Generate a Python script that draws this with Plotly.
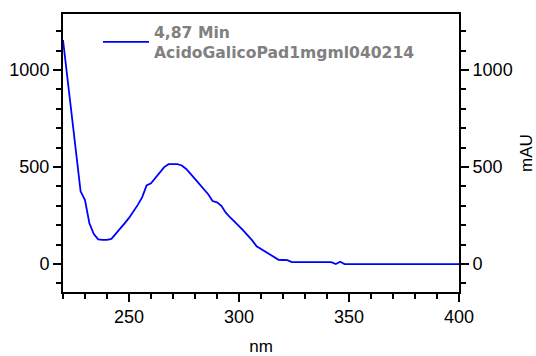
import plotly.graph_objects as go

# UV spectrum of the 4,87 min peak (wavelength in nm, absorbance in mAU)
wavelength = [220, 222, 224, 226, 228, 230, 232, 234, 236, 238, 240, 242, 244, 246,
              248, 250, 252, 254, 256, 258, 260, 262, 264, 266, 268, 270, 272, 274,
              276, 278, 280, 282, 284, 286, 288, 290, 292, 294, 296, 298, 300, 302,
              304, 306, 308, 310, 312, 314, 316, 318, 320, 322, 324, 326, 328, 330,
              332, 334, 336, 338, 340, 342, 344, 346, 348, 350, 355, 360, 365, 370,
              375, 380, 385, 390, 395, 400]
absorbance = [1155, 960, 765, 570, 375, 330, 210, 155, 127, 125, 125, 130, 155, 184,
              210, 238, 270, 305, 345, 405, 416, 445, 470, 500, 515, 515, 515, 508,
              490, 465, 438, 412, 387, 360, 325, 318, 300, 265, 240, 215, 195, 172,
              148, 122, 92, 78, 65, 50, 37, 22, 21, 20, 10, 10, 10, 10,
              10, 10, 10, 10, 10, 10, 0, 12, 0, 0, 0, 0, 0, 0,
              0, 0, 0, 0, 0, 0]

series_name = "4,87 Min<br>AcidoGalicoPad1mgml040214"

x_range = [220, 400]
y_range = [-144, 1289]

FONT = "Liberation Sans, Arial, sans-serif"
tick_font = dict(family=FONT, size=18, color="black")

fig = go.Figure()
fig.add_trace(go.Scatter(
    x=wavelength, y=absorbance, mode="lines", name=series_name,
    line=dict(color="#0000FF", width=1.8),
))
# same spectrum on the right-hand axis so that axis is drawn with its own ticks
fig.add_trace(go.Scatter(
    x=wavelength, y=absorbance, mode="lines", yaxis="y2", showlegend=False,
    hoverinfo="skip", line=dict(color="rgba(0,0,0,0)", width=0),
))

axis_common = dict(
    showgrid=False, zeroline=False,
    showline=True, linecolor="black", linewidth=2,
    ticks="outside", ticklen=8, tickwidth=1.5, tickcolor="black",
    tickfont=tick_font, automargin=False,
)
minor_ticks = dict(ticks="outside", ticklen=5, tickwidth=1.5, tickcolor="black")

fig.update_layout(
    width=536, height=356,
    margin=dict(l=63, r=77, t=14, b=64),
    paper_bgcolor="white", plot_bgcolor="white",
    showlegend=True,
    legend=dict(
        x=(98 - 63) / 396, y=0.996, xanchor="left", yanchor="top",
        bgcolor="rgba(0,0,0,0)", borderwidth=0, itemwidth=46,
        font=dict(family="DejaVu Sans, sans-serif", size=15.6, color="#808080",
                  weight="bold"),
    ),
    xaxis=dict(
        range=x_range, mirror=True, tick0=0, dtick=50,
        ticklabelstandoff=-1,
        minor=dict(dtick=10, **minor_ticks),
        title=dict(text="nm", font=dict(family=FONT, size=17, color="black"), standoff=17),
        **axis_common,
    ),
    yaxis=dict(
        range=y_range, tick0=0, dtick=500,
        minor=dict(dtick=100, **minor_ticks),
        **axis_common,
    ),
    yaxis2=dict(
        range=y_range, overlaying="y", side="right", anchor="x",
        tick0=0, dtick=500,
        minor=dict(dtick=100, **minor_ticks),
        title=dict(text="mAU", font=dict(family=FONT, size=17, color="black"), standoff=12),
        **axis_common,
    ),
)

fig.write_html("out.html")
